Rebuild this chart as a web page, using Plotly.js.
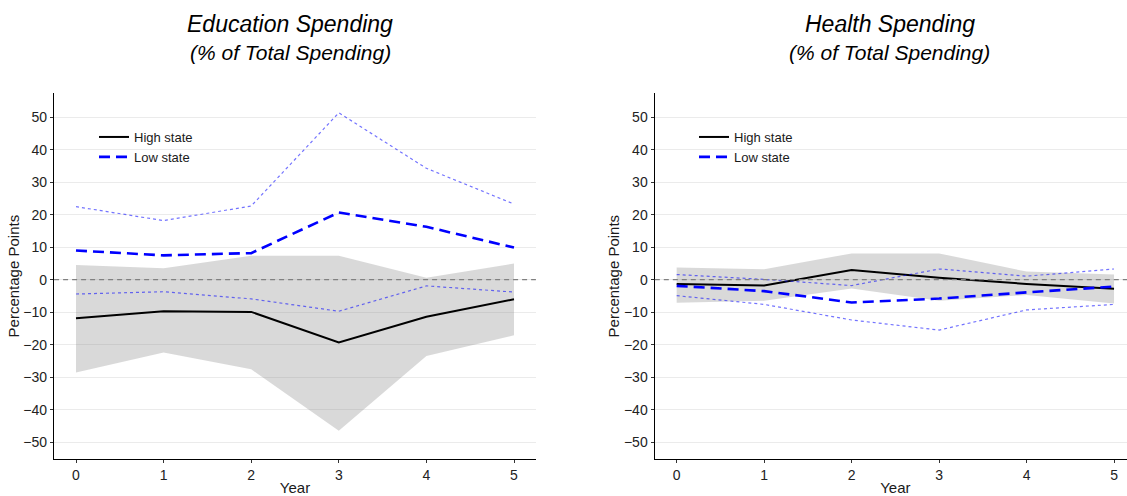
<!DOCTYPE html>
<html>
<head>
<meta charset="utf-8">
<script src="https://cdn.plot.ly/plotly-3.0.1.min.js"></script>
<style>
  html, body { margin: 0; padding: 0; background: #fff; overflow: hidden; }
  #chart { width: 1140px; height: 496px; }
</style>
</head>
<body>
<div id="chart"></div>
<script>
// Years after the shock
const years = [0, 1, 2, 3, 4, 5];
const yTicks = [-50, -40, -30, -20, -10, 0, 10, 20, 30, 40, 50];

// Education spending (% of total spending), percentage points
const eduHighMean = [-11.9, -9.7, -9.9, -19.3, -11.4, -6.0];
const eduHighLow  = [-28.6, -22.4, -27.6, -46.5, -23.5, -17.1];
const eduHighUp   = [4.5, 3.5, 7.4, 7.4, 0.6, 5.0];
const eduLowMean  = [9.0, 7.5, 8.2, 20.7, 16.3, 9.9];
const eduLowLow   = [-4.4, -3.7, -5.9, -9.7, -1.9, -3.8];
const eduLowUp    = [22.5, 18.2, 22.7, 51.4, 34.3, 23.3];

// Health spending (% of total spending), percentage points
const hlthHighMean = [-1.3, -1.8, 3.0, 0.6, -1.3, -2.8];
const hlthHighLow  = [-7.1, -6.5, -2.7, -6.5, -4.7, -7.3];
const hlthHighUp   = [3.8, 3.2, 8.1, 8.1, 2.5, 1.6];
const hlthLowMean  = [-1.9, -3.5, -7.0, -5.8, -3.9, -2.1];
const hlthLowLow   = [-4.9, -7.6, -12.4, -15.5, -9.3, -7.6];
const hlthLowUp    = [1.6, 0.1, -1.8, 3.3, 1.1, 3.3];

const seriesNames = ['High state', 'Low state'];

const FONT = 'Liberation Sans, Arial, sans-serif';
const W = 1140, H = 496;
const px = v => v / W;
const py = v => (H - v) / H;

function panelTraces(d, xa, ya, legendId) {
  const base = { x: years, xaxis: xa, yaxis: ya, mode: 'lines', hoverinfo: 'skip' };
  return [
    // confidence band of the high state
    Object.assign({}, base, { y: d.highLow, line: { width: 0 }, showlegend: false }),
    Object.assign({}, base, { y: d.highUp, line: { width: 0 }, fill: 'tonexty',
      fillcolor: 'rgba(128,128,128,0.3)', showlegend: false }),
    // high state estimate
    Object.assign({}, base, { y: d.highMean, name: seriesNames[0], legend: legendId,
      line: { color: '#000000', width: 2 } }),
    // low state bounds
    Object.assign({}, base, { y: d.lowUp, showlegend: false,
      line: { color: 'rgba(0,0,255,0.55)', width: 1.2, dash: '3px,3px' } }),
    Object.assign({}, base, { y: d.lowLow, showlegend: false,
      line: { color: 'rgba(0,0,255,0.55)', width: 1.2, dash: '3px,3px' } }),
    // low state estimate
    Object.assign({}, base, { y: d.lowMean, name: seriesNames[1], legend: legendId,
      line: { color: '#0000ff', width: 2.6, dash: '11px,6px' } })
  ];
}

const data = [].concat(
  panelTraces({ highMean: eduHighMean, highLow: eduHighLow, highUp: eduHighUp,
                lowMean: eduLowMean, lowLow: eduLowLow, lowUp: eduLowUp }, 'x', 'y', 'legend'),
  panelTraces({ highMean: hlthHighMean, highLow: hlthHighLow, highUp: hlthHighUp,
                lowMean: hlthLowMean, lowLow: hlthLowLow, lowUp: hlthLowUp }, 'x2', 'y2', 'legend2')
);

function xAxis(domain, anchor) {
  return {
    domain: domain, anchor: anchor, range: [-0.25, 5.25],
    tickvals: years, ticks: 'outside', ticklen: 3, tickcolor: '#333', tickwidth: 1,
    showline: true, linecolor: '#000', linewidth: 1.3,
    showgrid: false, zeroline: false,
    tickfont: { family: FONT, size: 14, color: '#222' },
    title: { text: 'Year', font: { family: FONT, size: 15, color: '#1a1a1a' }, standoff: 4 },
    fixedrange: true
  };
}
function yAxis(anchor) {
  return {
    domain: [py(459), py(93.3)], anchor: anchor, range: [-55.2, 57.4],
    tickvals: yTicks, ticks: 'outside', ticklen: 3, tickcolor: '#333', tickwidth: 1,
    showline: true, linecolor: '#000', linewidth: 1.3,
    showgrid: true, gridcolor: '#ebebeb', gridwidth: 1, zeroline: false,
    tickfont: { family: FONT, size: 14, color: '#222' },
    title: { text: 'Percentage Points', font: { family: FONT, size: 15, color: '#1a1a1a' }, standoff: 0 },
    fixedrange: true
  };
}

function legendBox(xLeft) {
  return {
    x: px(xLeft), y: py(122), xanchor: 'left', yanchor: 'top',
    bgcolor: 'rgba(0,0,0,0)', borderwidth: 0, tracegroupgap: 0, traceorder: 'normal',
    font: { family: FONT, size: 13, color: '#1a1a1a' }
  };
}

function titleNotes(cx, main) {
  return [
    { text: main, xref: 'paper', yref: 'paper', x: px(cx), y: py(23.7),
      xanchor: 'center', yanchor: 'middle', showarrow: false,
      font: { family: FONT, size: 23, color: '#000', style: 'italic' } },
    { text: '(% of Total Spending)', xref: 'paper', yref: 'paper', x: px(cx), y: py(52.7),
      xanchor: 'center', yanchor: 'middle', showarrow: false,
      font: { family: FONT, size: 21, color: '#000', style: 'italic' } }
  ];
}

function zeroRef(xa, ya) {
  return { type: 'line', xref: xa + ' domain', yref: ya, x0: 0, x1: 1, y0: 0, y1: 0,
           line: { color: '#808080', width: 1.3, dash: '5px,4px' }, layer: 'above' };
}

const layout = {
  width: W, height: H,
  margin: { l: 0, r: 0, t: 0, b: 0 },
  paper_bgcolor: '#fff', plot_bgcolor: '#fff',
  font: { family: FONT },
  xaxis: xAxis([px(54.1), px(535.9)], 'y'),
  yaxis: yAxis('x'),
  xaxis2: xAxis([px(654.8), px(1135.9)], 'y2'),
  yaxis2: yAxis('x2'),
  legend: legendBox(94),
  legend2: legendBox(694),
  annotations: titleNotes(290, 'Education Spending').concat(titleNotes(889.5, 'Health Spending')),
  shapes: [zeroRef('x', 'y'), zeroRef('x2', 'y2')]
};

Plotly.newPlot('chart', data, layout, { displayModeBar: false, staticPlot: true });
</script>
</body>
</html>
